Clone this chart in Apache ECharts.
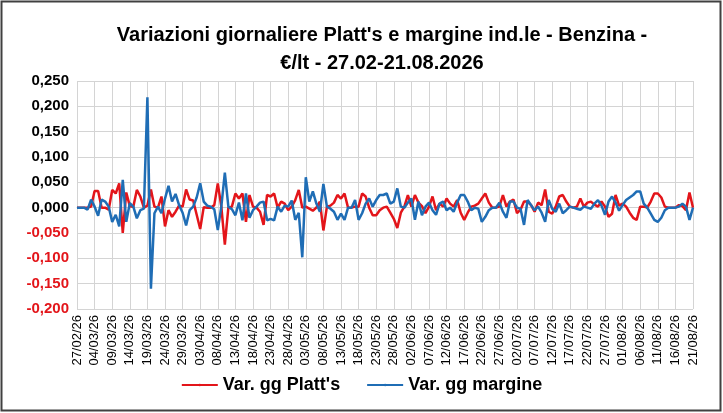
<!DOCTYPE html>
<html>
<head>
<meta charset="utf-8">
<script src="https://cdn.jsdelivr.net/npm/echarts@6/dist/echarts.min.js"></script>
<style>
  html, body { margin: 0; padding: 0; background: #fff; }
  #chart { width: 723px; height: 413px; }
</style>
</head>
<body>
<div id="chart"></div>
<script>
// date giornaliere 27/02/26 - 21/08/26
const startDate = new Date(2026, 1, 27);
const dayCount = 176;
const dates = [];
for (let i = 0; i < dayCount; i++) {
  const d = new Date(startDate.getFullYear(), startDate.getMonth(), startDate.getDate() + i);
  const dd = String(d.getDate()).padStart(2, '0');
  const mm = String(d.getMonth() + 1).padStart(2, '0');
  dates.push(dd + '/' + mm + '/26');
}

// Var. gg Platt's (€/lt)
const plattsVar = [
  0, 0, 0, 0, 0.002, 0.033, 0.033, 0, 0, -0.004,
  0.035, 0.028, 0.048, -0.05, 0.03, 0.003, 0.002, 0.035, 0.022, 0,
  0.004, 0.036, 0.002, 0, 0.022, -0.037, -0.005, -0.018, -0.008, 0.004,
  0.002, 0.036, 0.016, 0.014, -0.014, -0.042, 0.001, 0, 0, 0.005,
  0.048, 0.002, -0.073, 0, 0.002, 0.028, 0.018, 0.028, -0.028, 0.025,
  0.002, 0, -0.008, -0.034, 0.025, 0.022, 0.028, 0, 0.012, 0.008,
  -0.005, 0.002, 0.015, 0.035, 0, 0.002, -0.002, -0.006, 0, 0.012,
  -0.045, 0.002, 0.004, 0.01, 0.025, 0.018, 0.028, 0, 0, 0.002,
  0.002, 0.028, 0.022, 0, -0.015, -0.015, -0.005, 0, 0.002, -0.01,
  -0.022, -0.04, -0.01, 0.002, 0.025, 0.002, 0.025, 0.01, 0.003, -0.011,
  0.002, 0.022, -0.005, 0.008, 0.002, 0.018, 0.008, 0.002, 0.015, -0.01,
  -0.024, -0.01, 0.002, 0.004, 0.008, 0.018, 0.028, 0.01, 0, 0,
  0.002, 0.025, 0.002, 0.012, 0.016, -0.011, -0.004, 0.012, 0.012, 0.005,
  -0.008, 0.01, 0.005, 0.036, -0.008, -0.012, 0.002, 0.022, 0.025, 0.012,
  0.002, 0, 0.002, 0.018, 0.002, 0.01, 0.012, 0.006, 0.002, 0.012,
  0.002, -0.018, -0.012, 0.025, 0.004, 0.008, 0.002, -0.01, -0.02, -0.024,
  0.002, 0.002, 0, 0.012, 0.028, 0.028, 0.02, 0.002, 0, 0,
  0, 0.005, 0.003, -0.005, 0.03, 0
];

// Var. gg margine (€/lt)
const margineVar = [
  0, 0, 0, -0.004, 0.016, 0.002, -0.016, 0.016, 0.012, 0.002,
  -0.028, -0.014, -0.037, 0.055, -0.028, 0.009, 0.002, -0.021, -0.005, -0.002,
  0.218, -0.16, -0.011, 0.002, -0.011, 0.018, 0.043, 0.012, 0.027, 0.005,
  -0.01, -0.035, -0.005, 0.002, 0.02, 0.048, 0.012, 0.004, 0.002, -0.003,
  -0.044, 0.002, 0.069, 0.002, -0.003, -0.015, 0.01, -0.025, 0.028, -0.02,
  -0.005, 0.002, 0.01, 0.012, -0.025, -0.022, -0.025, 0.002, -0.008, 0.004,
  0.002, 0.014, -0.024, -0.01, -0.098, 0.06, 0.012, 0.032, 0.008, -0.008,
  0.047, 0.002, -0.002, -0.008, -0.024, -0.012, -0.024, 0, 0, 0.015,
  -0.024, -0.011, 0.008, 0.018, 0.002, 0.015, 0.025, 0.025, 0.028, 0.008,
  0.012, 0.038, 0.002, 0, 0.01, 0.018, -0.024, 0.012, -0.015, 0.002,
  0.01, -0.005, -0.014, 0.008, 0.012, -0.005, 0, -0.008, 0.01, 0.025,
  0.025, 0.012, -0.005, 0, -0.002, -0.028, -0.018, -0.005, 0, 0,
  0.01, -0.008, -0.02, 0.012, 0.012, 0, -0.002, -0.034, 0.015, 0.005,
  -0.005, 0.002, -0.01, -0.028, 0.015, -0.002, -0.008, 0.008, -0.011, -0.005,
  0.002, 0, -0.002, -0.004, 0.002, 0, -0.002, 0.008, 0.015, 0.004,
  -0.014, 0.012, 0.022, 0.01, -0.006, 0.005, 0.015, 0.02, 0.025, 0.032,
  0.032, 0.008, 0, -0.012, -0.024, -0.028, -0.02, -0.005, 0, 0,
  0, 0.002, 0.008, 0.002, -0.024, 0
];

const seriesNames = ["Var. gg Platt's", 'Var. gg margine'];

const chart = echarts.init(document.getElementById('chart'));
const font = "'Liberation Sans', sans-serif";

const option = {
  animation: false,
  backgroundColor: '#ffffff',
  textStyle: { fontFamily: font },
  graphic: [{
    type: 'rect',
    shape: { x: 1.5, y: 1.5, width: 719, height: 409 },
    style: { fill: 'none', stroke: '#404040', lineWidth: 2 }
  }],
  title: {
    text: "Variazioni giornaliere Platt's e margine ind.le - Benzina -\n€/lt - 27.02-21.08.2026",
    left: 377,
    textAlign: 'center',
    top: 16,
    textStyle: {
      fontFamily: font,
      fontSize: 20,
      fontWeight: 'bold',
      color: '#000',
      lineHeight: 28
    }
  },
  legend: {
    bottom: 14,
    left: 'center',
    itemWidth: 36,
    itemHeight: 3,
    itemGap: 26,
    textStyle: { fontFamily: font, fontSize: 18, fontWeight: 'bold', color: '#000' },
    data: seriesNames
  },
  grid: { left: 77, right: 30, top: 81, bottom: 104 },
  xAxis: {
    type: 'category',
    data: dates,
    boundaryGap: false,
    axisLine: { lineStyle: { color: '#d0d0d0' } },
    axisTick: { show: false },
    axisLabel: {
      interval: 4,
      rotate: 90,
      margin: 6,
      fontFamily: font,
      fontSize: 13,
      color: '#000'
    },
    splitLine: { show: true, interval: 4, lineStyle: { color: '#d4d4d4' } }
  },
  yAxis: {
    type: 'value',
    min: -0.2,
    max: 0.25,
    interval: 0.05,
    axisLine: { show: false },
    axisTick: { show: false },
    axisLabel: {
      margin: 8,
      fontFamily: font,
      fontSize: 15,
      fontWeight: 'bold',
      color: v => (v < 0 ? '#e3151a' : '#000'),
      formatter: v => v.toFixed(3).replace('.', ',')
    },
    splitLine: { lineStyle: { color: '#d4d4d4' } }
  },
  series: [
    {
      name: seriesNames[0],
      type: 'line',
      data: plattsVar,
      symbol: 'none',
      lineStyle: { color: '#e3151a', width: 2.5 },
      itemStyle: { color: '#e3151a' }
    },
    {
      name: seriesNames[1],
      type: 'line',
      data: margineVar,
      symbol: 'none',
      lineStyle: { color: '#1f6db5', width: 2.5 },
      itemStyle: { color: '#1f6db5' }
    }
  ]
};

chart.setOption(option);
</script>
</body>
</html>
